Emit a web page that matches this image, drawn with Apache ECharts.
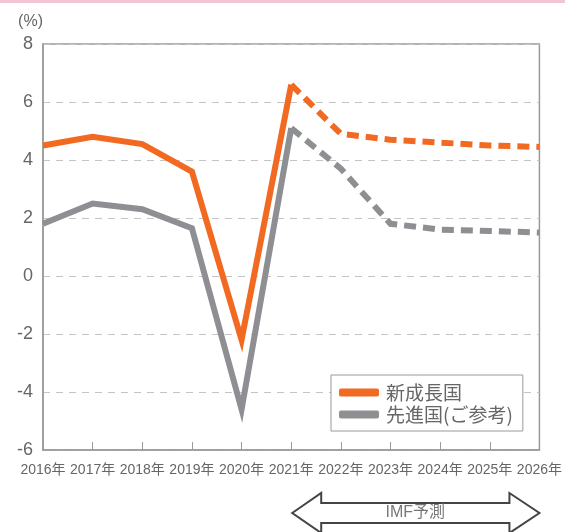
<!DOCTYPE html>
<html><head><meta charset="utf-8">
<script src="https://cdn.jsdelivr.net/npm/echarts@6/dist/echarts.min.js"></script>
<style>html,body{margin:0;padding:0;background:#fff}#c{width:565px;height:532px}</style>
</head><body><div id="c"></div>
<script>
const years = ['2016年','2017年','2018年','2019年','2020年','2021年','2022年','2023年','2024年','2025年','2026年'];
const emerging = [4.5, 4.8, 4.55, 3.6, -2.2, 6.6, 4.9, 4.7, 4.6, 4.5, 4.45];
const advanced = [1.8, 2.5, 2.3, 1.65, -4.6, 5.1, 3.7, 1.8, 1.6, 1.55, 1.5];
const forecastStart = 5; // index of 2021年
const yTicks = {min: -6, max: 8, interval: 2};
const names = ['新成長国', '先進国(ご参考)'];
const colors = ['#F26A22', '#8E8F93'];

const solid = arr => arr.map((v, i) => i <= forecastStart ? v : null);
const dashed = arr => arr.map((v, i) => i >= forecastStart ? v : null);

const FONT = '"Liberation Sans","Noto Sans CJK JP",sans-serif';
const chart = echarts.init(document.getElementById('c'), null, {renderer: 'canvas'});
function lineSeries(name, data, color, dash) {
  return {
    name: name, type: 'line', data: data, symbol: 'none', connectNulls: false,
    lineStyle: {color: color, width: 6, type: dash ? [12, 7] : 'solid', join: 'miter', cap: 'butt'},
    itemStyle: {color: color}, z: dash ? 3 : 4, animation: false
  };
}
chart.setOption({
  animation: false,
  textStyle: {fontFamily: FONT},
  grid: {left: 43, right: 25, top: 44, bottom: 82, show: true, borderColor: '#9a9a9a', borderWidth: 1.5},
  xAxis: {
    type: 'category', data: years, boundaryGap: false,
    axisLine: {show: true, onZero: false, lineStyle: {color: '#9a9a9a', width: 1.5}},
    axisTick: {show: true, inside: true, length: 8, lineStyle: {color: '#9a9a9a'}},
    axisLabel: {color: '#666', fontSize: 14, margin: 13, fontFamily: FONT, interval: 0},
    splitLine: {show: false}
  },
  yAxis: {
    type: 'value', min: yTicks.min, max: yTicks.max, interval: yTicks.interval,
    axisLine: {show: true, lineStyle: {color: '#9a9a9a', width: 1.5}},
    axisTick: {show: false},
    axisLabel: {color: '#666', fontSize: 18, margin: 10},
    splitLine: {show: true, lineStyle: {color: '#c4c4c4', type: [7, 6], width: 1}},
    name: '(%)', nameLocation: 'end', nameGap: 14,
    nameTextStyle: {color: '#666', fontSize: 16, align: 'right', padding: [0, 0, 0, 0]}
  },
  legend: {
    data: names, orient: 'vertical', left: 331, top: 375,
    backgroundColor: '#fff', borderColor: '#9a9a9a', borderWidth: 1, borderRadius: 0,
    padding: [7, 10, 6, 8], itemGap: 1, itemWidth: 40, itemHeight: 8, icon: 'roundRect',
    textStyle: {color: '#666', fontSize: 19, fontFamily: '"Noto Sans CJK JP",sans-serif', lineHeight: 21, padding: [0, 0, 0, 2]}
  },
  series: [
    lineSeries(names[0], solid(emerging), colors[0], false),
    lineSeries(names[0], dashed(emerging), colors[0], true),
    lineSeries(names[1], solid(advanced), colors[1], false),
    lineSeries(names[1], dashed(advanced), colors[1], true)
  ]
});

// IMF forecast arrow under the x axis, spanning 2021年..2026年
const x0 = chart.convertToPixel({xAxisIndex: 0}, years[forecastStart]);
const x1 = chart.convertToPixel({xAxisIndex: 0}, years[years.length - 1]);
const cy = 513, hh = 20, sh = 10, hw = 30;
chart.setOption({
  graphic: [
    {type: 'rect', shape: {x: 0, y: 0, width: 565, height: 3}, style: {fill: '#F2C4D6'}, silent: true},
    {type: 'polygon', shape: {points: [
      [x0 + 1, cy], [x0 + hw, cy - hh], [x0 + hw, cy - sh], [x1 - hw, cy - sh], [x1 - hw, cy - hh],
      [x1, cy], [x1 - hw, cy + hh], [x1 - hw, cy + sh], [x0 + hw, cy + sh], [x0 + hw, cy + hh]
    ]}, style: {fill: '#fff', stroke: '#444', lineWidth: 2}, silent: true},
    {type: 'text', x: (x0 + x1) / 2, y: cy, style: {text: 'IMF予測', fill: '#777', fontSize: 16, fontFamily: FONT, align: 'center', verticalAlign: 'middle'}, silent: true}
  ]
});
</script>
</body></html>
